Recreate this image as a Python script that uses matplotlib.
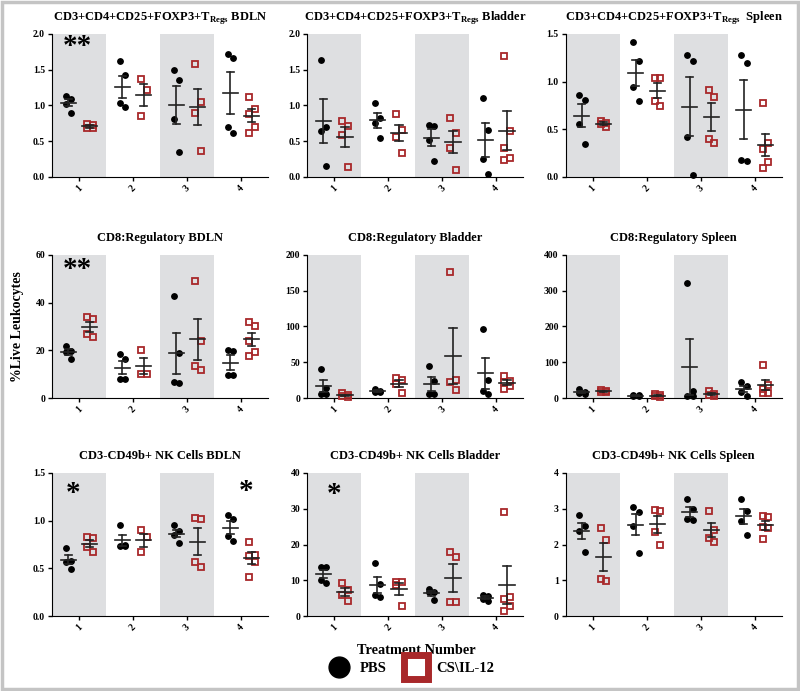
import numpy as np
import matplotlib
matplotlib.use("Agg")
import matplotlib.pyplot as plt
from matplotlib.patches import Rectangle
from matplotlib.lines import Line2D

plt.rcParams['font.family'] = ['Liberation Serif', 'DejaVu Serif']
plt.rcParams['font.weight'] = 'bold'
plt.rcParams['mathtext.fontset'] = 'custom'
plt.rcParams['mathtext.rm'] = 'Liberation Serif:bold'
plt.rcParams['mathtext.bf'] = 'Liberation Serif:bold'

# ---- data ----
treatments = ['1', '2', '3', '4']

titles = [r'CD3+CD4+CD25+FOXP3+T$_{\mathregular{Regs}}$ BDLN',
          r'CD3+CD4+CD25+FOXP3+T$_{\mathregular{Regs}}$ Bladder',
          r'CD3+CD4+CD25+FOXP3+T$_{\mathregular{Regs}}$  Spleen',
          'CD8:Regulatory BDLN', 'CD8:Regulatory Bladder', 'CD8:Regulatory Spleen',
          'CD3-CD49b+ NK Cells BDLN', 'CD3-CD49b+ NK Cells Bladder',
          'CD3-CD49b+ NK Cells Spleen']

y_max = [2.0, 2.0, 1.5, 60, 200, 400, 1.5, 40, 4]
y_step = [0.5, 0.5, 0.5, 20, 50, 100, 0.5, 10, 1]
y_fmt = ['%.1f', '%.1f', '%.1f', '%d', '%d', '%d', '%.1f', '%d', '%d']

# PBS (black dots), per panel, per treatment
pbs = [
    [[1.13, 1.09, 1.02, 0.90], [1.62, 1.42, 1.03, 0.98], [1.50, 1.36, 0.81, 0.35], [1.72, 1.66, 0.70, 0.62]],
    [[1.64, 0.70, 0.64, 0.15], [1.04, 0.82, 0.75, 0.55], [0.73, 0.71, 0.52, 0.22], [1.11, 0.65, 0.25, 0.04]],
    [[0.86, 0.81, 0.55, 0.35], [1.41, 1.22, 0.94, 0.80], [1.28, 1.22, 0.42, 0.02], [1.28, 1.19, 0.18, 0.17]],
    [[21.9, 19.8, 19.1, 16.4], [18.5, 16.5, 8.0, 7.8], [42.9, 18.8, 6.9, 6.2], [20.2, 19.9, 9.7, 9.6]],
    [[41.0, 14.0, 5.0, 5.0], [12.9, 10.1, 8.3, 7.8, 9.2], [44.6, 24.0, 5.5, 5.0], [96.6, 25.3, 10.1, 5.5]],
    [[26.0, 18.0, 14.0, 12.0], [9.2, 7.4, 5.5, 5.0], [321.8, 18.4, 5.5, 5.5], [44.0, 33.0, 18.0, 4.6]],
    [[0.716, 0.58, 0.564, 0.495], [0.956, 0.746, 0.736, 0.736], [0.956, 0.888, 0.853, 0.764], [1.06, 1.02, 0.84, 0.79]],
    [[13.8, 13.8, 10.2, 9.1], [14.7, 8.9, 6.0, 5.2], [7.5, 6.8, 6.6, 4.5], [6.0, 5.5, 4.9, 4.2]],
    [[2.83, 2.51, 2.38, 1.80], [3.04, 2.91, 2.51, 1.76], [3.28, 2.99, 2.70, 2.68], [3.27, 2.95, 2.67, 2.27]],
]

# CS\IL-12 (red open squares)
cs = [
    [[0.74, 0.72, 0.68, 0.68], [1.37, 1.22, 0.85], [1.58, 1.05, 0.90, 0.36], [1.12, 0.95, 0.88, 0.70, 0.62]],
    [[0.78, 0.71, 0.59, 0.14], [0.88, 0.66, 0.56, 0.34], [0.82, 0.61, 0.40, 0.10], [1.69, 0.64, 0.40, 0.26, 0.24]],
    [[0.59, 0.57, 0.55, 0.52], [1.04, 1.04, 0.80, 0.74], [0.91, 0.84, 0.40, 0.36], [0.77, 0.36, 0.29, 0.16, 0.09]],
    [[33.8, 33.0, 26.9, 25.8], [20.1, 10.2, 10.0], [49.2, 24.1, 13.4, 11.6], [31.9, 30.1, 23.8, 19.4, 17.7]],
    [[6.4, 4.6, 2.3, 0.9], [28.5, 25.7, 19.3, 6.9], [175.6, 25.3, 22.5, 10.6], [31.3, 24.4, 22.1, 17.0, 12.4]],
    [[23.0, 18.4, 16.6, 15.6], [11.0, 7.4, 4.6, 3.7], [18.4, 11.0, 7.4, 5.5], [92.0, 36.8, 24.8, 13.8, 13.8]],
    [[0.826, 0.819, 0.729, 0.667], [0.898, 0.826, 0.667], [1.025, 1.018, 0.564, 0.516], [0.777, 0.643, 0.633, 0.571, 0.409]],
    [[9.3, 7.4, 6.0, 4.2], [9.5, 9.4, 8.8, 2.7], [18.0, 16.6, 4.0, 3.9], [29.2, 5.4, 4.7, 2.8, 1.3]],
    [[2.47, 2.12, 1.04, 0.97], [2.97, 2.93, 2.35, 1.99], [2.94, 2.40, 2.17, 2.08], [2.81, 2.76, 2.50, 2.45, 2.16]],
]

# significance marks: panel index -> list of (treatment position, y, text)
sig = {0: [(0.98, 1.83, '**')], 3: [(0.98, 54, '**')],
       6: [(0.9, 1.29, '*'), (4.1, 1.31, '*')], 7: [(1.0, 34, '*')]}

red = '#a8282a'
shade = '#dedfe1'

fig = plt.figure(figsize=(8, 6.91), dpi=100)

col_left = [0.065, 0.384, 0.707]
row_bottom = [0.744, 0.424, 0.1085]
ax_w, ax_h = 0.27, 0.207


def spread(vals):
    vals = np.asarray(vals)
    rank = np.argsort(np.argsort(-vals))
    return np.where(rank % 2 == 0, -0.05, 0.05)


def draw_group(ax, x, vals, **kw):
    vals = np.asarray(vals)
    ax.plot(x + spread(vals), vals, ls='none', clip_on=False, zorder=3, **kw)
    m = vals.mean()
    s = vals.std(ddof=1) / np.sqrt(len(vals))
    lc = '#222222'
    ax.plot([x - 0.14, x + 0.14], [m, m], color=lc, lw=1.2, zorder=4)
    ax.plot([x, x], [m - s, m + s], color=lc, lw=1.2, zorder=4)
    ax.plot([x - 0.065, x + 0.065], [m + s, m + s], color=lc, lw=1.2, zorder=4)
    ax.plot([x - 0.065, x + 0.065], [m - s, m - s], color=lc, lw=1.2, zorder=4)


for k in range(9):
    r, c = divmod(k, 3)
    ax = fig.add_axes([col_left[c], row_bottom[r], ax_w, ax_h])
    ax.axvspan(0.5, 1.5, color=shade, lw=0, zorder=0)
    ax.axvspan(2.5, 3.5, color=shade, lw=0, zorder=0)
    for i in range(4):
        draw_group(ax, i + 1 - 0.2, pbs[k][i], marker='o', ms=3.9, color='black')
        draw_group(ax, i + 1 + 0.2, cs[k][i], marker='s', ms=4.4, mfc='none',
                   mec=red, mew=1.3)
    ax.set_xlim(0.5, 4.5)
    ax.set_ylim(0, y_max[k])
    ticks = np.arange(0, y_max[k] + y_step[k] / 2, y_step[k])
    ax.set_yticks(ticks)
    ax.set_yticklabels([y_fmt[k] % t for t in ticks], fontsize=7, fontweight='bold')
    ax.set_xticks([1, 2, 3, 4])
    ax.set_xticklabels(treatments, rotation=45, fontsize=7, fontweight='bold')
    ax.spines['top'].set_visible(False)
    ax.spines['right'].set_visible(False)
    ax.tick_params(direction='out', length=3, width=1, pad=2)
    ax.set_title(titles[k], fontsize=9, fontweight='bold', pad=10)
    for (sx, sy, st) in sig.get(k, []):
        ax.text(sx, sy, st, ha='center', va='center', fontsize=21, fontweight='bold')

fig.text(0.022, 0.527, '%Live Leukocytes', rotation=90, ha='center', va='center',
         fontsize=10, fontweight='bold')
fig.text(0.521, 0.059, 'Treatment Number', ha='center', va='center',
         fontsize=10.3, fontweight='bold')

handles = [Line2D([], [], ls='none', marker='o', ms=15, color='black', label='PBS'),
           Line2D([], [], ls='none', marker='s', ms=17, mfc='white', mec=red, mew=5,
                  label='CS\\IL-12')]
fig.legend(handles=handles, loc='center', bbox_to_anchor=(0.512, 0.033), ncol=2,
           frameon=False, handletextpad=0.4, columnspacing=1.0,
           prop={'weight': 'bold', 'size': 10.5})

fig.patches.append(Rectangle((0.002, 0.003), 0.996, 0.994, transform=fig.transFigure,
                             fill=False, ec='#c4c4c4', lw=2.5))

fig.savefig('out.png', dpi=100)
